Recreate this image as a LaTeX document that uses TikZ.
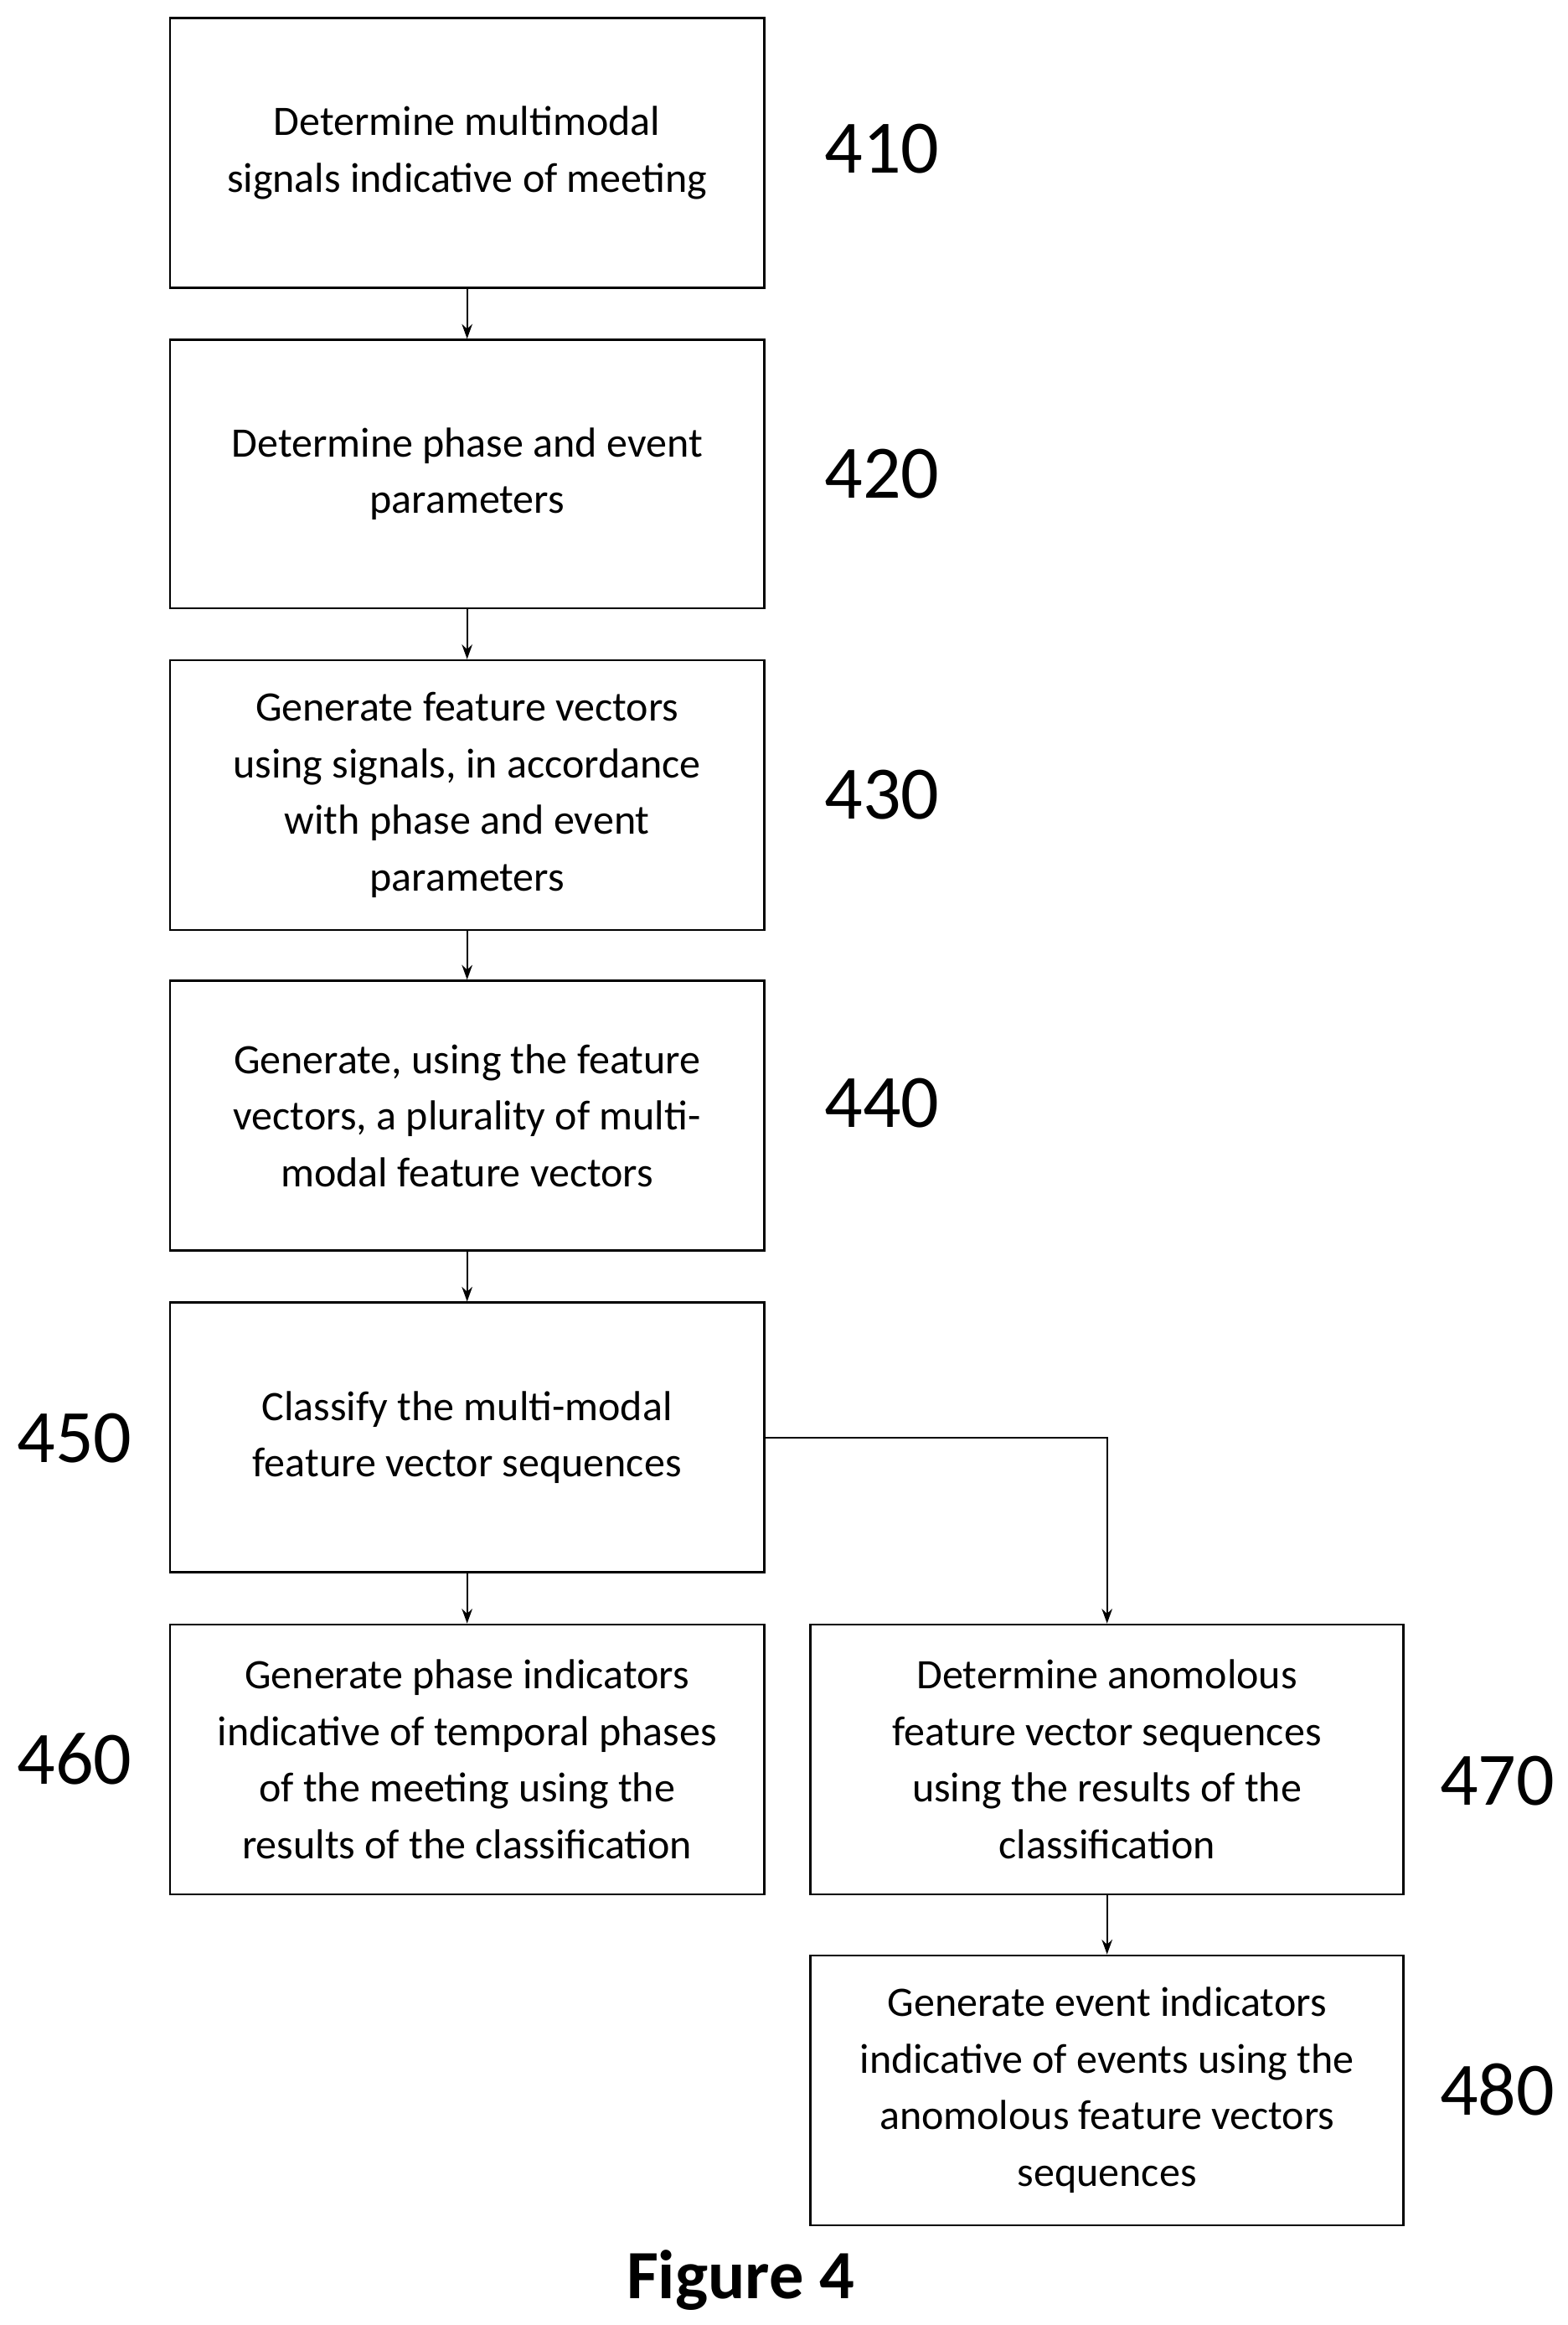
\documentclass[tikz,border=0pt]{standalone}
\usepackage{fontspec}
\setmainfont{Carlito}
\usetikzlibrary{arrows.meta}
\begin{document}
\begin{tikzpicture}[x=0.05cm,y=-0.05cm,
 box/.style={draw,line width=2pt,align=center,font=\fontsize{40}{54}\selectfont},
 num/.style={font=\fontsize{72}{80}\selectfont},
 arr/.style={-{Stealth[length=14pt,width=10pt]},line width=1.8pt}]
\useasboundingbox (0,0) rectangle (1052,1560);
\newcommand\bx[6]{\draw[line width=2pt] (#2,#3) rectangle (#4,#5); \node[box,draw=none] (#1) at ({(#2+#4)/2},{(#3+#5)/2}) {#6};
 \path (#2,#3) coordinate (#1nw) (#4,#5) coordinate (#1se);}
\node[box,minimum width=399*0.05cm,minimum height=181*0.05cm] (b1) at (313.5,102.5) {Determine multimodal\\signals indicative of meeting};
\node[box,minimum width=399*0.05cm,minimum height=180*0.05cm] (b2) at (313.5,318) {Determine phase and event\\parameters};
\node[box,minimum width=399*0.05cm,minimum height=181*0.05cm] (b3) at (313.5,533.5) {Generate feature vectors\\using signals, in accordance\\with phase and event\\parameters};
\node[box,minimum width=399*0.05cm,minimum height=181*0.05cm] (b4) at (313.5,748.5) {Generate, using the feature\\vectors, a plurality of multi-\\modal feature vectors};
\node[box,minimum width=399*0.05cm,minimum height=181*0.05cm] (b5) at (313.5,964.5) {Classify the multi-modal\\feature vector sequences};
\node[box,minimum width=399*0.05cm,minimum height=181*0.05cm] (b6) at (313.5,1180.5) {Generate phase indicators\\indicative of temporal phases\\of the meeting using the\\results of the classification};
\node[box,minimum width=398*0.05cm,minimum height=181*0.05cm] (b7) at (743,1180.5) {Determine anomolous\\feature vector sequences\\using the results of the\\classification};
\node[box,minimum width=398*0.05cm,minimum height=181*0.05cm] (b8) at (743,1402.5) {Generate event indicators\\indicative of events using the\\anomolous feature vectors\\sequences};
\node[num] (n1) at (592,100) {410};
\node[num] (n2) at (592,318) {420};
\node[num] (n3) at (592,533) {430};
\node[num] (n4) at (592,740) {440};
\node[num] (n5) at (50,965) {450};
\node[num] (n6) at (50,1180) {460};
\node[num] (n7) at (1005,1195) {470};
\node[num] (n8) at (1005,1402) {480};
\node[font=\bfseries\fontsize{66}{70}\selectfont] (fig) at (497,1530) {Figure 4};
\draw[arr] (b1) -- (b2);
\draw[arr] (b2) -- (b3);
\draw[arr] (b3) -- (b4);
\draw[arr] (b4) -- (b5);
\draw[arr] (b5) -- (b6);
\draw[arr] (b5.east) -| (b7.north);
\draw[arr] (b7) -- (b8);
\end{tikzpicture}
\end{document}
